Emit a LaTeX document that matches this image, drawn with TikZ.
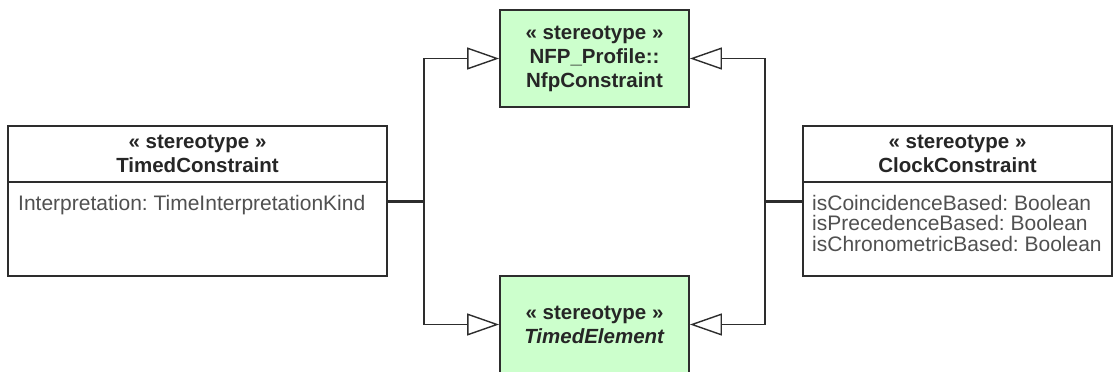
\documentclass[tikz,border=0pt]{standalone}
\usepackage{fontspec}
\setmainfont{Liberation Sans}
\usepackage{xcolor}
\usepackage{tikz}
\usetikzlibrary{arrows.meta, positioning}

\definecolor{stereogreen}{RGB}{204,255,204}
\definecolor{boxline}{RGB}{45,45,45}
\definecolor{attrgray}{RGB}{80,80,80}
\frenchspacing

\begin{document}
\begin{tikzpicture}[x=1pt, y=-1pt,
  head/.style={rectangle, draw=boxline, line width=1.8pt, fill=white,
    align=center, outer sep=0pt, minimum height=56pt,
    font=\fontsize{20.5}{23.5}\selectfont\bfseries, text=black!85},
  body/.style={rectangle, draw=boxline, line width=1.8pt, fill=white,
    outer sep=0pt, minimum height=94pt},
  attr/.style={anchor=north west, inner sep=0pt, align=left,
    font=\fontsize{21}{20.5}\selectfont, text=attrgray},
  stereo/.style={rectangle, draw=boxline, line width=1.8pt, fill=stereogreen,
    align=center, minimum width=189pt, minimum height=97pt,
    font=\fontsize{20.5}{24}\selectfont\bfseries, text=black!85},
  gen/.style={-{Triangle[open, length=32pt, width=22pt, fill=white]},
    line width=1.4pt, draw=boxline},
  stub/.style={line width=3pt, draw=boxline}
]
\useasboundingbox (0,0) rectangle (1114,372);

% Nodes
\node[head, minimum width=379pt, anchor=north west] (tchead) at (8,126) {« stereotype »\\TimedConstraint};
\node[body, minimum width=379pt, below=0pt of tchead] (tcbody) {};
\node[attr] (tcattr) at ([xshift=10pt, yshift=-13pt]tcbody.north west) {Interpretation: TimeInterpretationKind};

\node[stereo] (nfp) at (594.5,58.5) {« stereotype »\\NFP\_Profile::\\NfpConstraint};
\node[stereo] (timed) at (594.5,324.5) {« stereotype »\\\textit{TimedElement}};

\node[head, minimum width=309pt, anchor=north west] (cchead) at (803,126) {« stereotype »\\ClockConstraint};
\node[body, minimum width=309pt, below=0pt of cchead] (ccbody) {};
\node[attr] (ccattr) at ([xshift=9pt, yshift=-13pt]ccbody.north west) {isCoincidenceBased: Boolean\\isPrecedenceBased: Boolean\\isChronometricBased: Boolean};

\coordinate (tcjoin) at (424,201);
\coordinate (ccjoin) at (765,201);

% Arrows
\draw[gen] (tcjoin) |- (nfp.west);
\draw[gen] (tcjoin) |- (timed.west);
\draw[stub] (tcjoin -| tcbody.east) -- (tcjoin);
\draw[gen] (ccjoin) |- (nfp.east);
\draw[gen] (ccjoin) |- (timed.east);
\draw[stub] (ccjoin -| ccbody.west) -- (ccjoin);

\end{tikzpicture}
\end{document}
